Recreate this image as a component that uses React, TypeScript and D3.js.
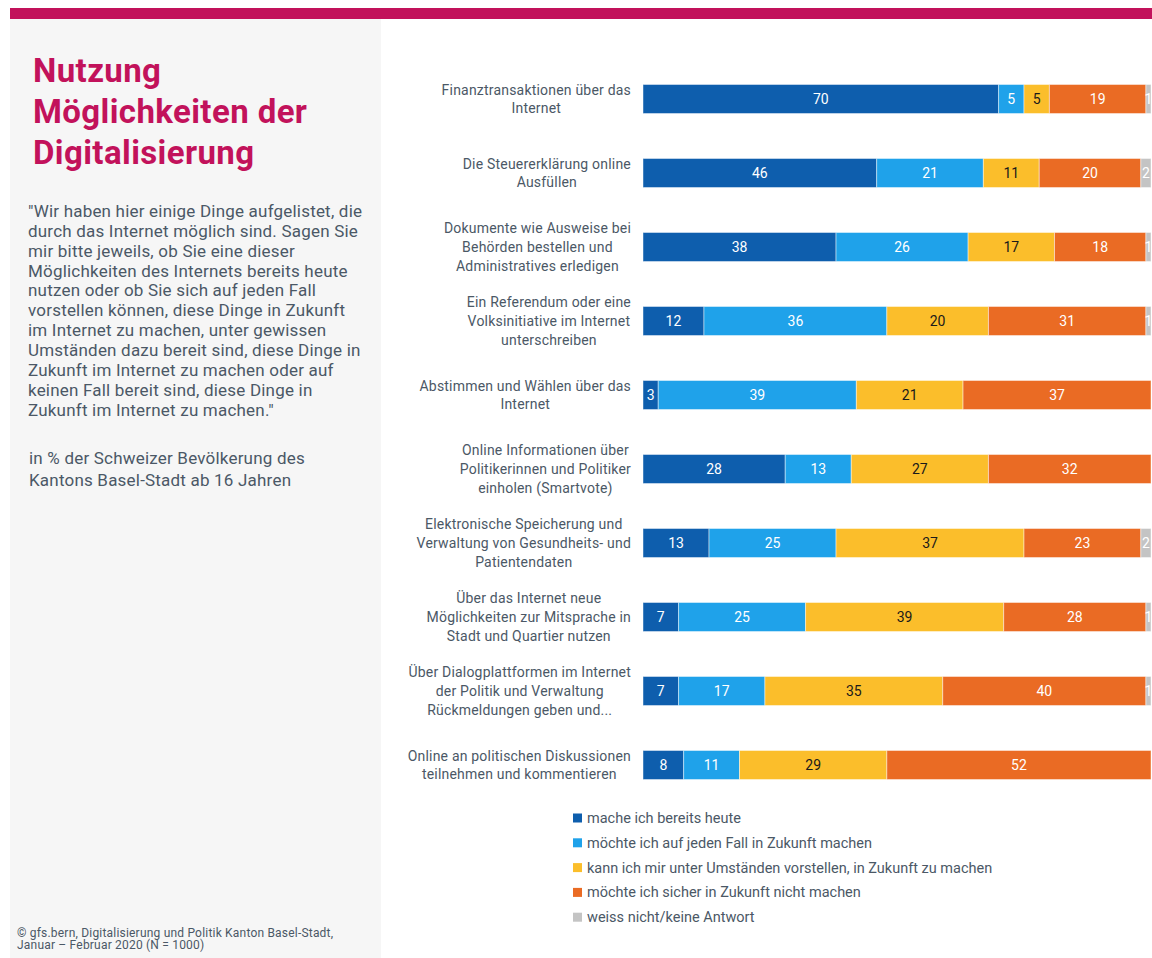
import React from "react";
import * as d3 from "d3";

const categories = [
  "Finanztransaktionen über das|Internet",
  "Die Steuererklärung online|Ausfüllen",
  "Dokumente wie Ausweise bei|Behörden bestellen und|Administratives erledigen",
  "Ein Referendum oder eine|Volksinitiative im Internet|unterschreiben",
  "Abstimmen und Wählen über das|Internet",
  "Online Informationen über|Politikerinnen und Politiker|einholen (Smartvote)",
  "Elektronische Speicherung und|Verwaltung von Gesundheits- und|Patientendaten",
  "Über das Internet neue|Möglichkeiten zur Mitsprache in|Stadt und Quartier nutzen",
  "Über Dialogplattformen im Internet|der Politik und Verwaltung|Rückmeldungen geben und...",
  "Online an politischen Diskussionen|teilnehmen und kommentieren",
];

const seriesNames = [
  "mache ich bereits heute",
  "möchte ich auf jeden Fall in Zukunft machen",
  "kann ich mir unter Umständen vorstellen, in Zukunft zu machen",
  "möchte ich sicher in Zukunft nicht machen",
  "weiss nicht/keine Antwort",
];

const macheHeute = [70, 46, 38, 12, 3, 28, 13, 7, 7, 8];
const moechteZukunft = [5, 21, 26, 36, 39, 13, 25, 25, 17, 11];
const kannVorstellen = [5, 11, 17, 20, 21, 27, 37, 39, 35, 29];
const nichtMachen = [19, 20, 18, 31, 37, 32, 23, 28, 40, 52];
const weissNicht = [1, 2, 1, 1, 0, 0, 2, 1, 1, 0];

const colors = ["#0e5ead", "#1fa2ea", "#fbbe2b", "#ea6b24", "#c4c4c4"];
const labelColors = ["#ffffff", "#ffffff", "#1a1a1a", "#ffffff", "#ffffff"];

const FONT = "Roboto, 'Noto Sans', sans-serif";
const TEXT = "#4b5866";
const MAGENTA = "#c2125b";
const LABEL_LS = 0.2;

let ctx: CanvasRenderingContext2D | null = null;
function measure(t: string, font: string) {
  if (!ctx) ctx = document.createElement("canvas").getContext("2d");
  if (!ctx) return t.length * 7;
  ctx.font = font;
  return ctx.measureText(t).width + t.length * LABEL_LS;
}

export default function App() {
  const W = 1152, H = 958;
  const series = [macheHeute, moechteZukunft, kannVorstellen, nichtMachen, weissNicht];
  const rows = categories.map((c, i) => {
    const o: any = { cat: c };
    series.forEach((s, k) => (o["s" + k] = s[i]));
    return o;
  });
  const keys = series.map((_, k) => "s" + k);
  const stacked = d3.stack<any>().keys(keys)(rows);

  const x = d3.scaleLinear().domain([0, 100]).range([643, 1151]);
  const y = d3
    .scaleBand<string>()
    .domain(categories)
    .range([62, 802])
    .paddingInner(0.608)
    .paddingOuter(0.304);

  const paragraph = [
    "\"Wir haben hier einige Dinge aufgelistet, die",
    "durch das Internet möglich sind. Sagen Sie",
    "mir bitte jeweils, ob Sie eine dieser",
    "Möglichkeiten des Internets bereits heute",
    "nutzen oder ob Sie sich auf jeden Fall",
    "vorstellen können, diese Dinge in Zukunft",
    "im Internet zu machen, unter gewissen",
    "Umständen dazu bereit sind, diese Dinge in",
    "Zukunft im Internet zu machen oder auf",
    "keinen Fall bereit sind, diese Dinge in",
    "Zukunft im Internet zu machen.\"",
  ];

  const labelFont = `14px ${FONT}`;

  return (
    <svg
      width={W}
      height={H}
      style={{ position: "absolute", left: 0, top: 0, background: "#fff" }}
      fontFamily={FONT}
    >
      <rect x={10} y={19} width={371} height={H - 19} fill="#f6f6f6" />
      <rect x={10} y={8} width={W - 10} height={11} fill={MAGENTA} />

      {["Nutzung", "Möglichkeiten der", "Digitalisierung"].map((t, i) => (
        <text
          key={t}
          x={33}
          y={82 + i * 41}
          fontSize={33}
          letterSpacing={0.4}
          fontWeight={700}
          fill={MAGENTA}
        >
          {t}
        </text>
      ))}

      {paragraph.map((t, i) => (
        <text key={i} x={28} y={217 + i * 19.85} fontSize={17} letterSpacing={0.2} fill={TEXT}>
          {t}
        </text>
      ))}
      <text x={29} y={464} fontSize={17} letterSpacing={0.2} fill={TEXT}>
        in % der Schweizer Bevölkerung des
      </text>
      <text x={29} y={486} fontSize={17} letterSpacing={0.2} fill={TEXT}>
        Kantons Basel-Stadt ab 16 Jahren
      </text>

      <text x={17} y={937} fontSize={12} letterSpacing={0.2} fill={TEXT}>
        © gfs.bern, Digitalisierung und Politik Kanton Basel-Stadt,
      </text>
      <text x={17} y={949} fontSize={12} letterSpacing={0.2} fill={TEXT}>
        Januar – Februar 2020 (N = 1000)
      </text>

      {/* category labels */}
      {categories.map((c) => {
        const lines = c.split("|");
        const maxW = d3.max(lines, (l) => measure(l, labelFont)) || 0;
        const cx = 631 - maxW / 2;
        const cy = (y(c) || 0) + y.bandwidth() / 2;
        const lh = 18.6;
        const y0 = cy - ((lines.length - 1) * lh) / 2;
        return (
          <text key={c} fontSize={14} letterSpacing={LABEL_LS} fill={TEXT} textAnchor="middle">
            {lines.map((l, j) => (
              <tspan key={j} x={cx} y={y0 + j * lh} dy="0.35em">
                {l}
              </tspan>
            ))}
          </text>
        );
      })}

      {/* bars */}
      {stacked.map((layer, k) => (
        <g key={k}>
          {layer.map((d, i) => {
            const v = d[1] - d[0];
            if (v <= 0) return null;
            const x0 = x(d[0]);
            const x1 = x(d[1]);
            const yy = y(categories[i]) || 0;
            return (
              <g key={i}>
                <rect
                  x={x0}
                  y={yy}
                  width={x1 - x0}
                  height={y.bandwidth()}
                  fill={colors[k]}
                  stroke="#ffffff"
                  strokeOpacity={0.45}
                  strokeWidth={1}
                />
                <text
                  x={(x0 + x1) / 2}
                  y={yy + y.bandwidth() / 2}
                  dy="0.35em"
                  textAnchor="middle"
                  fontSize={14}
                  fill={labelColors[k]}
                >
                  {v}
                </text>
              </g>
            );
          })}
        </g>
      ))}

      {/* legend */}
      {seriesNames.map((n, k) => (
        <g key={n} transform={`translate(573, ${818 + k * 24.8})`}>
          <rect x={0} y={-4.5} width={9} height={9} fill={colors[k]} />
          <text x={14} y={0} dy="0.35em" fontSize={14.5} fill={TEXT}>
            {n}
          </text>
        </g>
      ))}
    </svg>
  );
}
